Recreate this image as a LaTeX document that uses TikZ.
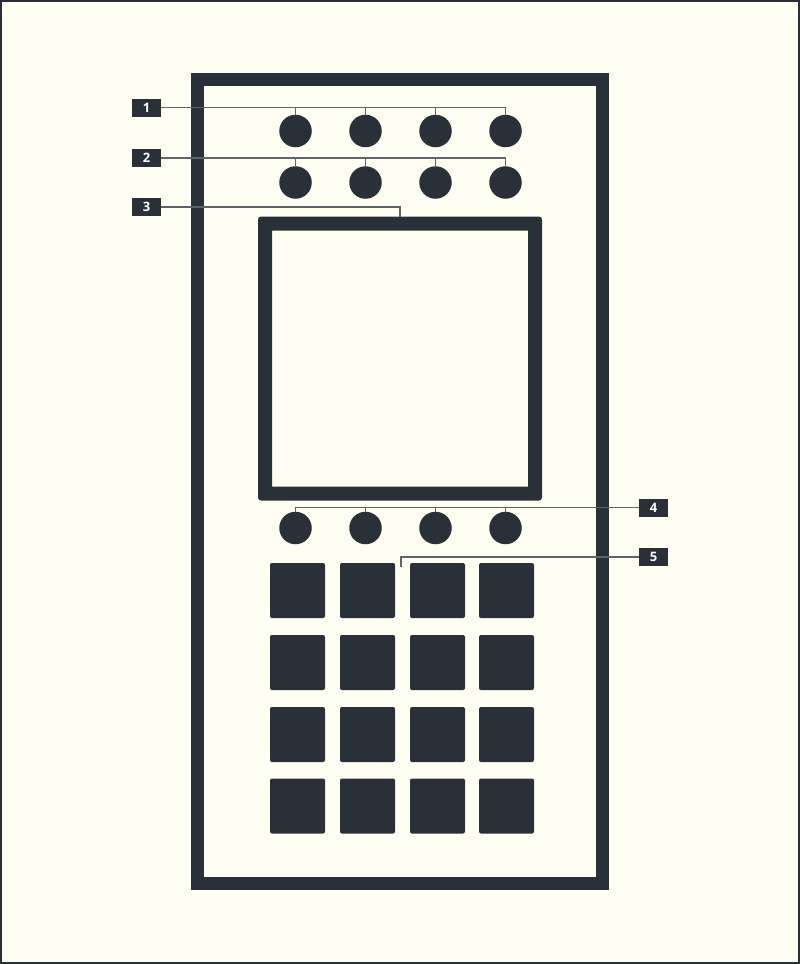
\documentclass[tikz,border=0pt]{standalone}
\usepackage{fontspec}
\setsansfont{Open Sans}
\definecolor{ink}{HTML}{293038}
\definecolor{paper}{HTML}{FEFEF2}
\definecolor{lead}{HTML}{5E646A}
\begin{document}
\begin{tikzpicture}[x=1pt,y=-1pt,
  knob/.style={circle,fill=ink,minimum size=32.5pt,inner sep=0pt},
  pad/.style={rectangle,fill=ink,minimum size=55pt,inner sep=0pt,rounded corners=2pt},
  tag/.style={rectangle,fill=ink,text=white,minimum width=29pt,minimum height=18pt,inner sep=0pt,font=\sffamily\fontsize{13}{13}\selectfont\bfseries},
  leader/.style={draw=lead,line width=1.1pt}]
\useasboundingbox (0,0) rectangle (800,964);
\fill[paper] (0,0) rectangle (800,964);
\draw[ink,line width=2pt] (1,1) rectangle (799,963);
% device body
\draw[ink,line width=13.5pt] (197.7,79.5) rectangle (602.3,883.3);
% screen
\node[minimum width=284pt,minimum height=284pt,inner sep=0pt,outer sep=0pt] (screen) at (400,358.5) {};
\fill[ink,even odd rule] [rounded corners=3pt] (screen.north west) rectangle (screen.south east)
  [sharp corners] ([shift={(14,14)}]screen.north west) rectangle ([shift={(-14,-14)}]screen.south east);
% knobs
\foreach \i/\x in {1/295.5,2/365.5,3/435.5,4/505.5}{
  \node[knob] (a\i) at (\x,131) {};
  \node[knob] (b\i) at (\x,182.5) {};
  \node[knob] (c\i) at (\x,528) {};
}
% pads
\foreach \r/\y in {1/590.5,2/662.5,3/734.5,4/806}{
  \foreach \c/\x in {1/297.5,2/367.5,3/437.5,4/506.5}{
    \node[pad] (p\r\c) at (\x,\y) {};
  }
}
% tags
\node[tag] (t1) at (146.5,107.5) {1};
\node[tag] (t2) at (146.5,158) {2};
\node[tag] (t3) at (146.5,207) {3};
\node[tag] (t4) at (653.5,507.5) {4};
\node[tag] (t5) at (653.5,557) {5};
\coordinate (pt5) at (401,567);
% leaders
\draw[leader] (t1.east) -| (a4.north);
\foreach \i in {1,2,3}{\draw[leader] (a\i.north) -- (a\i.north |- t1.east);}
\draw[leader] (t2.east) -| (b4.north);
\foreach \i in {1,2,3}{\draw[leader] (b\i.north) -- (b\i.north |- t2.east);}
\draw[leader] (t3.east) -| (screen.north);
\draw[leader] (t4.west) -| (c1.north);
\foreach \i in {2,3,4}{\draw[leader] (c\i.north) -- (c\i.north |- t4.west);}
\draw[leader] (t5.west) -| (pt5);
\end{tikzpicture}
\end{document}
